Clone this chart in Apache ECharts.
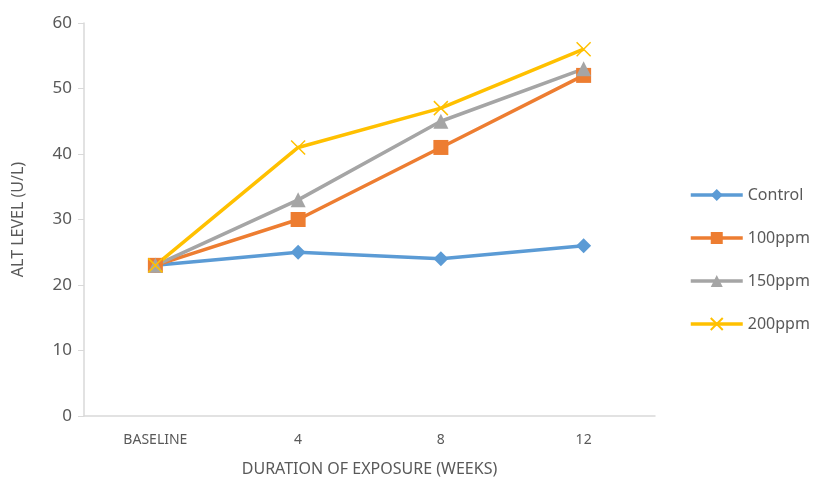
<!DOCTYPE html>
<html><head><meta charset="utf-8">
<script src="https://cdn.jsdelivr.net/npm/echarts@6/dist/echarts.min.js"></script>
<style>html,body{margin:0;padding:0;background:#fff}#c{width:825px;height:485px}</style>
</head><body><div id="c"></div>
<script>
var categories = ['BASELINE', '4', '8', '12'];
var control = [23, 25, 24, 26];
var ppm100 = [23, 30, 41, 52];
var ppm150 = [23, 33, 45, 53];
var ppm200 = [23, 41, 47, 56];
var seriesNames = ['Control', '100ppm', '150ppm', '200ppm'];
var colors = ['#5B9BD5', '#ED7D31', '#A5A5A5', '#FFC000'];
var FONT = 'Noto Sans';

function mk(name, data, color, symbol, size, extra) {
  var s = {
    name: name, type: 'line', data: data, symbol: symbol, symbolSize: size,
    lineStyle: { color: color, width: 3.5 },
    itemStyle: { color: color },
    z: 2
  };
  if (extra) Object.assign(s, extra);
  return s;
}
var xPath = 'path://M0,0L10,10M10,0L0,10';
var chart = echarts.init(document.getElementById('c'));
chart.setOption({
  animation: false,
  textStyle: { fontFamily: FONT },
  grid: { left: 84, right: 170, top: 23, bottom: 69 },
  legend: {
    orient: 'vertical', left: 684, top: 182,
    itemWidth: 52, itemHeight: 15, itemGap: 27,
    lineStyle: { width: 3.5 },
    textStyle: { fontSize: 16, color: '#595959', fontFamily: FONT },
    data: seriesNames
  },
  xAxis: {
    type: 'category', data: categories, boundaryGap: true,
    axisLine: { lineStyle: { color: '#D9D9D9', width: 1.5 } },
    axisTick: { show: false },
    axisLabel: { color: '#595959', fontSize: 14, margin: 17 },
    name: 'DURATION OF EXPOSURE (WEEKS)', nameLocation: 'middle', nameGap: 45,
    nameTextStyle: { color: '#595959', fontSize: 16 }
  },
  yAxis: {
    type: 'value', min: 0, max: 60, interval: 10,
    axisLine: { show: true, lineStyle: { color: '#D9D9D9', width: 1.5 } },
    axisTick: { show: true, length: 6, lineStyle: { color: '#D9D9D9' } },
    splitLine: { show: false },
    axisLabel: { color: '#595959', fontSize: 17, margin: 12 },
    name: 'ALT LEVEL (U/L)', nameLocation: 'middle', nameGap: 58,
    nameTextStyle: { color: '#595959', fontSize: 16 }
  },
  series: [
    mk('Control', control, colors[0], 'diamond', 15),
    mk('100ppm', ppm100, colors[1], 'rect', 15),
    mk('150ppm', ppm150, colors[2], 'triangle', 15),
    mk('200ppm', ppm200, colors[3], xPath, 14, { itemStyle: { color: colors[3], borderColor: colors[3], borderWidth: 1.5 } })
  ]
});
</script></body></html>
